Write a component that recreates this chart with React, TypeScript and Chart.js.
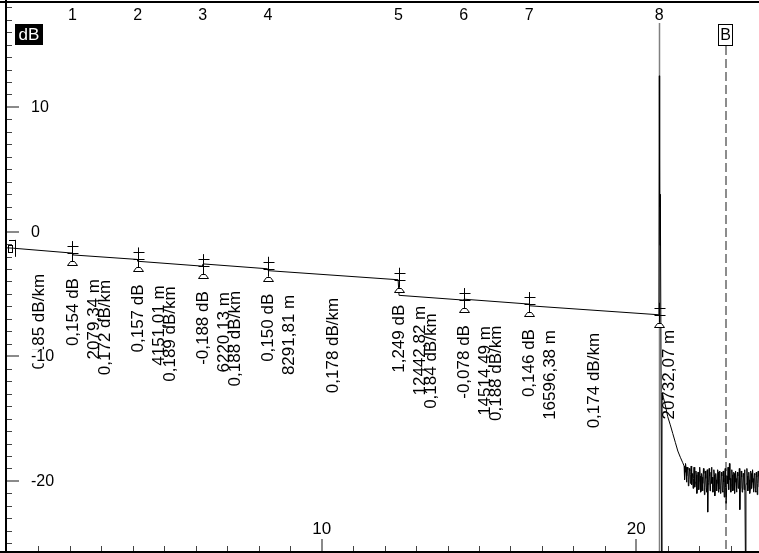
import React, { useEffect, useRef } from "react";
import { Chart, registerables } from "chart.js";

Chart.register(...registerables);

// ---- axes ----
const X_MIN_KM = 0;
const X_MAX_KM = 23.9;
const Y_MIN_DB = -25.7;
const Y_MAX_DB = 18.42;
const Y_TICK_LABELS = [10, 0, -10, -20];
const X_TICK_LABELS = [10, 20];

// ---- events ----
const EVENT_NUMBERS = ["1", "2", "3", "4", "5", "6", "7", "8"];
const EVENT_KM = [2.0793, 4.151, 6.2201, 8.2918, 12.4428, 14.5145, 16.5964, 20.7321];
const EVENT_LEVEL_DB = [-1.72, -2.23, -2.77, -2.98, -3.86, -5.49, -5.81, -6.67];
const EVENT_LOSS_LABELS = ["0,154 dB", "0,157 dB", "-0,188 dB", "0,150 dB", "1,249 dB", "-0,078 dB", "0,146 dB", ""];
const EVENT_DIST_LABELS = ["2079,34 m", "4151,01 m", "6220,13 m", "8291,81 m", "12442,82 m", "14514,49 m", "16596,38 m", "20732,07 m"];
const SECTION_SLOPE_LABELS = ["0,185 dB/km", "0,172 dB/km", "0,189 dB/km", "0,188 dB/km", "0,178 dB/km", "0,184 dB/km", "0,188 dB/km", "0,174 dB/km"];
const LAUNCH_LEVEL_DB = -1.3;
const MARKER_B_KM = 22.84;

// ---- trace ----
const TRACE_KM = [
  0, 0.2, 2.07, 2.09, 4.14, 4.16, 6.21, 6.23, 8.28, 8.3, 12.43, 12.46, 14.5, 14.52, 16.59, 16.61,
  20.72, 20.733, 20.738, 20.742, 20.745, 20.755, 20.765, 20.81, 20.815, 20.82, 20.86, 20.92, 21.0, 21.08, 21.16,
  21.24, 21.32, 21.4, 21.47,
];
const TRACE_DB = [
  -1.3, -1.33, -1.72, -1.87, -2.23, -2.38, -2.77, -2.59, -2.98, -3.13, -3.86, -5.11, -5.49, -5.42, -5.81, -5.95,
  -6.67, 12.5, 2.0, 12.3, 2.9, -1.1, 3.0, -26.5, -19.2, -12.95, -13.3, -13.9, -14.85, -15.5, -16.2,
  -16.9, -17.6, -18.1, -18.5,
];
const NOISE_START_KM = 21.52;
const NOISE_STEP_KM = 0.015;
const NOISE_DB = [
  -18.8, -19.9, -19.3, -18.6, -18.9, -20.1, -19.6, -18.9, -19.1, -20.4,
  -19.9, -19.0, -19.2, -20.2, -19.5, -18.8, -20.3, -19.6, -19.4, -20.6,
  -19.8, -18.9, -19.0, -20.5, -20.1, -19.2, -19.5, -21.0, -20.6, -19.3,
  -19.3, -20.7, -20.0, -18.9, -19.6, -20.9, -20.8, -19.4, -19.7, -20.8,
  -20.2, -19.0, -19.4, -21.1, -20.5, -19.2, -19.8, -20.6, -20.9, -19.1,
  -22.5, -20.3, -20.1, -19.0, -19.6, -20.8, -20.4, -19.3, -18.9, -20.2,
  -19.7, -20.9, -20.3, -19.1, -19.5, -21.2, -20.7, -19.4, -19.9, -20.8,
  -20.2, -19.1, -19.3, -20.9, -20.6, -19.2, -19.8, -21.0, -20.4, -19.3,
  -19.6, -20.8, -20.9, -19.2, -20.1, -21.3, -19.7, -19.0, -20.5, -21.8,
  -21.8, -19.6, -20.2, -18.9, -19.9, -20.7, -18.6, -19.9, -19.8, -20.9,
  -20.3, -19.1, -19.5, -20.8, -20.7, -19.3, -19.4, -21.0, -20.1, -19.2,
  -19.8, -20.9, -20.6, -19.3, -19.6, -20.6, -20.4, -19.0, -22.3, -20.6,
  -20.0, -19.2, -19.7, -20.9, -20.8, -19.4, -19.5, -20.7, -20.3, -19.1,
  -27.0, -20.4, -20.2, -19.0, -19.6, -20.8, -20.5, -19.3, -19.9, -21.0,
  -20.7, -19.2, -19.4, -20.6, -20.1, -19.1, -19.8, -20.9, -20.6, -19.4,
  -19.5, -20.8, -20.9, -19.3, -19.7, -21.1, -20.2, -19.2, -19.6, -20.5,
];

const FONT = '"Liberation Sans", Arial, Helvetica, sans-serif';

function seg(ctx: CanvasRenderingContext2D, x1: number, y1: number, x2: number, y2: number) {
  ctx.beginPath();
  ctx.moveTo(x1, y1);
  ctx.lineTo(x2, y2);
  ctx.stroke();
}

function vText(ctx: CanvasRenderingContext2D, text: string, cx: number, topY: number) {
  ctx.save();
  ctx.translate(cx, topY);
  ctx.rotate(-Math.PI / 2);
  ctx.textAlign = "right";
  ctx.textBaseline = "middle";
  ctx.fillText(text, 0, 0);
  ctx.restore();
}

function drawEventMarker(ctx: CanvasRenderingContext2D, ex: number, ey: number) {
  const x = Math.round(ex) + 0.5;
  ctx.strokeStyle = "#000";
  ctx.lineWidth = 1;
  seg(ctx, x, ey - 12, x, ey + 8);
  seg(ctx, x - 5, Math.round(ey - 7) + 0.5, x + 6, Math.round(ey - 7) + 0.5);
  seg(ctx, x - 5, Math.round(ey) + 0.5, x + 6, Math.round(ey) + 0.5);
  const t = Math.round(ey + 8) + 0.5;
  ctx.beginPath();
  ctx.moveTo(x - 2, t);
  ctx.lineTo(x + 2, t);
  ctx.lineTo(x + 5, t + 4);
  ctx.lineTo(x - 5, t + 4);
  ctx.closePath();
  ctx.fillStyle = "#fff";
  ctx.fill();
  ctx.stroke();
}

const overlayPlugin = {
  id: "otdrOverlay",
  beforeDatasetsDraw(chart: any) {
    const { ctx, chartArea: a, scales } = chart;
    const xs = scales.x;
    ctx.save();
    const endX = Math.round(xs.getPixelForValue(EVENT_KM[EVENT_KM.length - 1])) + 0.5;
    ctx.strokeStyle = "#808080";
    ctx.lineWidth = 1.5;
    seg(ctx, endX, 23, endX, a.bottom);
    const bx = Math.round(xs.getPixelForValue(MARKER_B_KM));
    ctx.setLineDash([9, 4]);
    ctx.lineWidth = 2;
    ctx.strokeStyle = "#8c8c8c";
    seg(ctx, bx, 46, bx, a.bottom);
    ctx.restore();
  },
  afterDatasetsDraw(chart: any) {
    const { ctx, chartArea: a, scales } = chart;
    const xs = scales.x;
    const ys = scales.y;
    ctx.save();

    // launch marker
    const lx = xs.getPixelForValue(0);
    const ly = ys.getPixelForValue(LAUNCH_LEVEL_DB);
    ctx.strokeStyle = "#000";
    ctx.lineWidth = 1;
    seg(ctx, lx + 8.5, ly - 8, lx + 8.5, ly + 9);
    seg(ctx, lx + 2, Math.round(ly - 8) + 0.5, lx + 8.5, Math.round(ly - 8) + 0.5);
    ctx.strokeRect(lx + 1.5, Math.round(ly - 3) + 0.5, 4, 7);

    // event markers
    EVENT_KM.forEach((km, i) => {
      drawEventMarker(ctx, xs.getPixelForValue(km), ys.getPixelForValue(EVENT_LEVEL_DB[i]));
    });

    // rotated annotation labels
    ctx.fillStyle = "#000";
    ctx.font = `17px ${FONT}`;
    EVENT_KM.forEach((km, i) => {
      const ex = xs.getPixelForValue(km);
      const ey = ys.getPixelForValue(EVENT_LEVEL_DB[i]);
      const last = i === EVENT_KM.length - 1;
      if (EVENT_LOSS_LABELS[i]) vText(ctx, EVENT_LOSS_LABELS[i], ex + 0.5, ey + 25);
      if (last) vText(ctx, EVENT_DIST_LABELS[i], ex + 10, ey + 15);
      else vText(ctx, EVENT_DIST_LABELS[i], ex + 21.5, ey + 26);
    });
    SECTION_SLOPE_LABELS.forEach((lab, i) => {
      const k0 = i === 0 ? 0 : EVENT_KM[i - 1];
      const d0 = i === 0 ? LAUNCH_LEVEL_DB : EVENT_LEVEL_DB[i - 1];
      const k1 = EVENT_KM[i];
      const d1 = EVENT_LEVEL_DB[i];
      const mx = xs.getPixelForValue((k0 + k1) / 2);
      const my = ys.getPixelForValue((d0 + d1) / 2);
      vText(ctx, lab, mx, my + 23.5);
    });

    // event numbers
    ctx.font = `16px ${FONT}`;
    ctx.textAlign = "center";
    ctx.textBaseline = "middle";
    EVENT_KM.forEach((km, i) => {
      ctx.fillText(EVENT_NUMBERS[i], xs.getPixelForValue(km), 15.5);
    });

    // dB box
    ctx.fillStyle = "#000";
    ctx.fillRect(15, 24, 28, 21);
    ctx.fillStyle = "#fff";
    ctx.font = `17px ${FONT}`;
    ctx.fillText("dB", 29, 35);

    // B marker box
    const bx = Math.round(xs.getPixelForValue(MARKER_B_KM));
    ctx.fillStyle = "#fff";
    ctx.fillRect(bx - 7.5, 24.5, 14, 21);
    ctx.strokeStyle = "#000";
    ctx.lineWidth = 1;
    ctx.strokeRect(bx - 7.5, 24.5, 14, 21);
    ctx.fillStyle = "#000";
    ctx.font = `16px ${FONT}`;
    ctx.fillText("B", bx - 0.5, 35.5);

    // y ticks
    for (let v = Math.ceil(Y_MIN_DB); v <= Math.floor(Y_MAX_DB); v++) {
      const py = Math.round(ys.getPixelForValue(v));
      if (v % 10 === 0) {
        ctx.strokeStyle = "#8a8a8a";
        ctx.lineWidth = 2;
        seg(ctx, a.left, py, a.left + 12, py);
      } else {
        ctx.strokeStyle = "#444";
        ctx.lineWidth = 1;
        seg(ctx, a.left, py + 0.5, a.left + 5, py + 0.5);
      }
    }
    // x ticks
    for (let v = Math.ceil(X_MIN_KM) + 1; v <= Math.floor(X_MAX_KM); v++) {
      const px = Math.round(xs.getPixelForValue(v));
      if (v % 10 === 0) {
        ctx.strokeStyle = "#8a8a8a";
        ctx.lineWidth = 2;
        seg(ctx, px, a.bottom, px, a.bottom - 13);
      } else {
        ctx.strokeStyle = "#444";
        ctx.lineWidth = 1;
        seg(ctx, px + 0.5, a.bottom, px + 0.5, a.bottom - 6);
      }
    }

    // y labels with white background
    ctx.font = `16px ${FONT}`;
    ctx.textAlign = "left";
    ctx.textBaseline = "middle";
    Y_TICK_LABELS.forEach((v) => {
      const py = ys.getPixelForValue(v);
      const t = String(v);
      const w = ctx.measureText(t).width;
      ctx.fillStyle = "#fff";
      ctx.fillRect(30, py - 7, w + 2, 14);
      ctx.fillStyle = "#000";
      ctx.fillText(t, 31, py + 0.5);
    });
    // x labels
    ctx.textAlign = "center";
    ctx.font = `17px ${FONT}`;
    X_TICK_LABELS.forEach((v) => {
      ctx.fillText(String(v), xs.getPixelForValue(v), a.bottom - 23);
    });

    // frame
    ctx.strokeStyle = "#000";
    ctx.lineWidth = 2;
    seg(ctx, a.left - 1, 0, a.left - 1, chart.height);
    seg(ctx, 0, a.top, chart.width, a.top);
    seg(ctx, 0, a.bottom, chart.width, a.bottom);

    ctx.restore();
  },
};

export default function App() {
  const ref = useRef<HTMLCanvasElement | null>(null);

  useEffect(() => {
    if (!ref.current) return;
    const pts: { x: number; y: number }[] = TRACE_KM.map((k, i) => ({ x: k, y: TRACE_DB[i] }));
    NOISE_DB.forEach((d, i) => pts.push({ x: NOISE_START_KM + i * NOISE_STEP_KM, y: d }));

    const chart = new Chart(ref.current, {
      type: "line",
      data: {
        datasets: [
          {
            data: pts,
            borderColor: "#000",
            borderWidth: 1,
            pointRadius: 0,
            fill: false,
            tension: 0,
          },
        ],
      },
      options: {
        animation: false,
        responsive: false,
        maintainAspectRatio: false,
        devicePixelRatio: 1,
        layout: { padding: { left: 7, top: 2, right: 0, bottom: 1 } },
        plugins: { legend: { display: false }, tooltip: { enabled: false } },
        events: [],
        scales: {
          x: { type: "linear", display: false, min: X_MIN_KM, max: X_MAX_KM },
          y: { type: "linear", display: false, min: Y_MIN_DB, max: Y_MAX_DB },
        },
      },
      plugins: [overlayPlugin],
    } as any);
    return () => chart.destroy();
  }, []);

  return (
    <div style={{ position: "fixed", left: 0, top: 0, width: 759, height: 553, background: "#fff" }}>
      <canvas ref={ref} width={759} height={553} style={{ display: "block" }} />
    </div>
  );
}
